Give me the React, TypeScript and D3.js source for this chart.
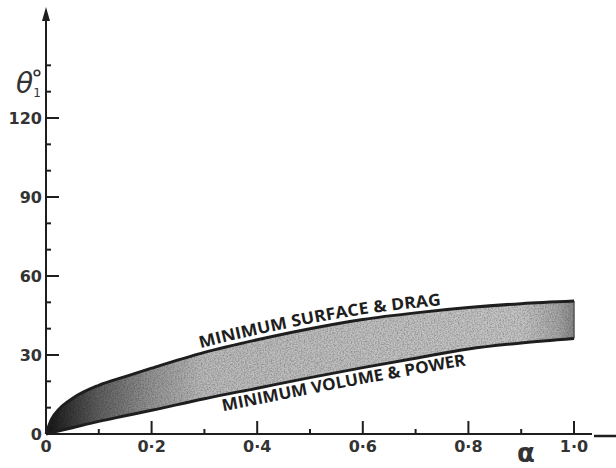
import React from 'react'
import * as d3 from 'd3'

// values (alpha vs theta1 in degrees)
const alpha = [0, 0.01, 0.025, 0.05, 0.1, 0.15, 0.2, 0.3, 0.4, 0.5, 0.6, 0.7, 0.8, 0.9, 1.0]
const surfaceDrag = [0, 5.5, 9.5, 13.5, 18.5, 21.8, 25, 31, 35.8, 40, 43.5, 46, 48, 49.5, 50.5]
const volumePower = [0, 0.5, 1.2, 2.4, 4.8, 6.9, 9, 13.4, 17.4, 21.4, 25.2, 28.8, 32.3, 34.6, 36.3]

const xMajor = [0.2, 0.4, 0.6, 0.8, 1.0]
const xMajorLabels = ['0·2', '0·4', '0·6', '0·8', '1·0']
const xMinor = [0.1, 0.3, 0.5, 0.7, 0.9]
const yMajor = [30, 60, 90, 120]
const yMinor = [10, 20, 40, 50, 70, 80, 100, 110, 130, 140]

const upperLabel = 'MINIMUM  SURFACE & DRAG'
const lowerLabel = 'MINIMUM  VOLUME & POWER'

const width = 616
const height = 468
const ink = '#1e1e1e'
const tickFont = "'DejaVu Sans', sans-serif"

export default function App() {
  const x = d3.scaleLinear().domain([0, 1]).range([46, 574])
  const y = d3.scaleLinear().domain([0, 150]).range([434, 39])

  const upper = alpha.map((a, i) => [a, surfaceDrag[i]] as [number, number])
  const lower = alpha.map((a, i) => [a, volumePower[i]] as [number, number])

  const line = d3.line<[number, number]>()
    .x(d => x(d[0]))
    .y(d => y(d[1]))
    .curve(d3.curveMonotoneX)

  const area = d3.area<number>()
    .x((_, i) => x(alpha[i]))
    .y0((_, i) => y(volumePower[i]))
    .y1((_, i) => y(surfaceDrag[i]))
    .curve(d3.curveMonotoneX)

  // arc length along the drawn points, used to centre the curve labels
  const arcTo = (pts: [number, number][], a: number) => {
    let len = 0
    for (let i = 1; i < pts.length; i++) {
      const [x0, y0] = [x(pts[i - 1][0]), y(pts[i - 1][1])]
      const [x1, y1] = [x(pts[i][0]), y(pts[i][1])]
      const seg = Math.hypot(x1 - x0, y1 - y0)
      if (pts[i][0] >= a) {
        const t = (a - pts[i - 1][0]) / (pts[i][0] - pts[i - 1][0])
        return len + seg * t
      }
      len += seg
    }
    return len
  }

  const bandD = area(alpha) || ''

  return (
    <div>
      <svg width={width} height={height} style={{ display: 'block', position: 'absolute', left: 0, top: 0 }}>
        <defs>
          <linearGradient id="bandGrad" gradientUnits="userSpaceOnUse" x1={x(0)} x2={x(1)} y1={0} y2={0}>
            <stop offset="0" stopColor="#151515" />
            <stop offset="0.04" stopColor="#333" />
            <stop offset="0.1" stopColor="#606060" />
            <stop offset="0.2" stopColor="#959595" />
            <stop offset="0.3" stopColor="#bcbcbc" />
            <stop offset="0.9" stopColor="#c6c6c6" />
            <stop offset="0.97" stopColor="#a8a8a8" />
            <stop offset="1" stopColor="#8a8a8a" />
          </linearGradient>
          <filter id="grain" x="0" y="0" width="100%" height="100%">
            <feTurbulence type="fractalNoise" baseFrequency="0.7" numOctaves="2" seed="4" result="n" />
            <feColorMatrix in="n" type="matrix"
              values="0 0 0 0 0  0 0 0 0 0  0 0 0 0 0  -1.8 0 0 0 1.15" result="dots" />
            <feComposite in="dots" in2="SourceGraphic" operator="in" />
          </filter>
          <path id="upperPath" d={line(upper) || ''} />
          <path id="lowerPath" d={line(lower) || ''} />
        </defs>

        {/* shaded band */}
        <path d={bandD} fill="url(#bandGrad)" />
        <path d={bandD} fill="#000" filter="url(#grain)" opacity={0.3} />
        <line x1={x(1)} x2={x(1)} y1={y(surfaceDrag[surfaceDrag.length - 1])} y2={y(volumePower[volumePower.length - 1])}
          stroke="#555" strokeWidth={1.5} />

        <path d={line(upper) || ''} fill="none" stroke={ink} strokeWidth={3} />
        <path d={line(lower) || ''} fill="none" stroke={ink} strokeWidth={3} />

        {/* curve labels */}
        <text fontFamily="'Open Sans', sans-serif" fontWeight={700} fontSize={16.5} fill={ink} dy={-5}>
          <textPath href="#upperPath" startOffset={arcTo(upper, 0.521)} textAnchor="middle"
            textLength={244} lengthAdjust="spacingAndGlyphs">{upperLabel}</textPath>
        </text>
        <text fontFamily="'Open Sans', sans-serif" fontWeight={700} fontSize={16.5} fill={ink} dy={16}>
          <textPath href="#lowerPath" startOffset={arcTo(lower, 0.56)} textAnchor="middle"
            textLength={248} lengthAdjust="spacingAndGlyphs">{lowerLabel}</textPath>
        </text>

        {/* x axis */}
        <line x1={x(0)} x2={592} y1={y(0)} y2={y(0)} stroke={ink} strokeWidth={2} />
        <line x1={594} x2={616} y1={y(0) + 2} y2={y(0) + 2} stroke={ink} strokeWidth={2.5} />
        {xMajor.map(v => (
          <line key={`xM${v}`} x1={x(v)} x2={x(v)} y1={y(0)} y2={y(0) - 13} stroke={ink} strokeWidth={2} />
        ))}
        {xMinor.map(v => (
          <line key={`xm${v}`} x1={x(v)} x2={x(v)} y1={y(0)} y2={y(0) - 5} stroke={ink} strokeWidth={2} />
        ))}
        {xMajor.map((v, i) => (
          <text key={`xl${v}`} x={x(v)} y={452} textAnchor="middle" fontFamily={tickFont}
            fontWeight={700} fontSize={16} fill="#333">{xMajorLabels[i]}</text>
        ))}
        <text x={x(0)} y={452} textAnchor="middle" fontFamily={tickFont}
          fontWeight={700} fontSize={16} fill="#333">0</text>
        <text x={526} y={462} textAnchor="middle" fontFamily={tickFont}
          fontWeight={700} fontSize={26} fill="#333">α</text>

        {/* y axis */}
        <line x1={x(0)} x2={x(0)} y1={y(0)} y2={14} stroke={ink} strokeWidth={2} />
        <path d={`M${x(0) - 4},21 L${x(0)},7 L${x(0) + 4},21 Z`} fill={ink} />
        {yMajor.map(v => (
          <line key={`yM${v}`} x1={x(0)} x2={x(0) + 13} y1={y(v)} y2={y(v)} stroke={ink} strokeWidth={2} />
        ))}
        {yMinor.map(v => (
          <line key={`ym${v}`} x1={x(0)} x2={x(0) + 5} y1={y(v)} y2={y(v)} stroke={ink} strokeWidth={2} />
        ))}
        {yMajor.map(v => (
          <text key={`yl${v}`} x={42} y={y(v) + 6} textAnchor="end" fontFamily={tickFont}
            fontWeight={700} fontSize={16} fill="#333">{v}</text>
        ))}
        <text x={42} y={y(0) + 6} textAnchor="end" fontFamily={tickFont}
          fontWeight={700} fontSize={16} fill="#333">0</text>
        <text x={16} y={93} fontFamily="'DejaVu Sans', sans-serif" fontStyle="italic" fontSize={28} fill="#333">
          θ<tspan fontSize={12} fontStyle="normal" dy={4}>1</tspan>
        </text>
        {/* degree mark */}
        <circle cx={37} cy={73} r={2.8} fill="none" stroke="#333" strokeWidth={1.6} />
      </svg>
    </div>
  )
}
